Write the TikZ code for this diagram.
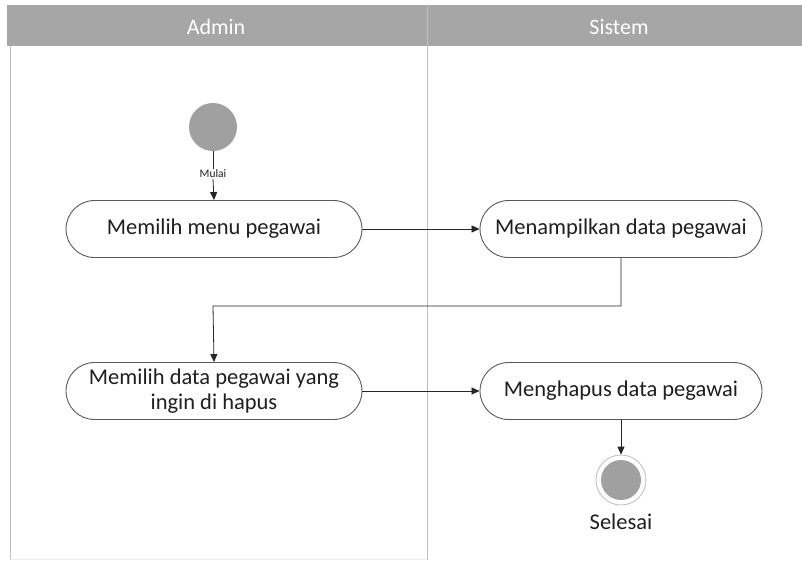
\documentclass[tikz,border=0pt]{standalone}
\usepackage{fontspec}
\setmainfont{Carlito}
\usetikzlibrary{arrows.meta}
\definecolor{hdr}{HTML}{A6A6A6}
\definecolor{lanel}{HTML}{BFBFBF}
\definecolor{boxl}{HTML}{595959}
\definecolor{txt}{HTML}{1F1F1F}
\definecolor{dot}{HTML}{A0A0A0}
\tikzset{
  act/.style={draw=boxl, line width=0.9pt, rounded corners=28.5pt, minimum width=296pt, minimum height=57pt, align=center, font=\fontsize{22.5}{25}\selectfont, text=txt, fill=white},
  flow/.style={draw=black!85, line width=0.8pt, -{Triangle[length=8pt,width=7pt]}},
  lane/.style={draw=lanel, line width=1pt},
}
\begin{document}
\begin{tikzpicture}[x=1pt,y=-1pt]
\useasboundingbox (0,0) rectangle (802,560);
% lanes
\fill[hdr] (7,5) rectangle (802,46);
\draw[lane] (10,46) -- (10,559);
\draw[lane] (427,5) -- (427,560);
\draw[draw=black!8] (10,559) -- (427,559);
\node[text=white, font=\fontsize{22}{24}\selectfont] (hA) at (216,27) {Admin};
\node[text=white, font=\fontsize{22}{24}\selectfont] (hS) at (619,27) {Sistem};
% nodes
\node[circle, fill=dot, minimum size=48pt, inner sep=0pt] (start) at (213,127) {};
\node[font=\fontsize{11.5}{13}\selectfont, text=txt, fill=white, inner sep=0.5pt] (mulai) at (213,174) {Mulai};
\node[act] (a1) at (214,229) {Memilih menu pegawai};
\node[act, minimum width=282pt] (s1) at (621,229) {Menampilkan data pegawai};
\node[act] (a2) at (214,391) {Memilih data pegawai yang\\ingin di hapus};
\node[act, minimum width=282pt] (s2) at (621,391) {Menghapus data pegawai};
\node[circle, draw=dot!70, line width=0.8pt, minimum size=50pt, inner sep=0pt] (end) at (621,480) {};
\node[circle, fill=dot, minimum size=40pt, inner sep=0pt] at (end.center) {};
\node[font=\fontsize{22.5}{25}\selectfont, text=txt] (selesai) at (621,522) {Selesai};
% connectors
\draw[draw=black!85, line width=0.8pt] (start.south) -- (mulai.north);
\draw[flow] (mulai.south) -- (a1.north);
\draw[flow] (a1.east) -- (s1.west);
\draw[flow] (s1.south) -- (621,306) -- (213,306) -- (a2.north);
\draw[flow] (a2.east) -- (s2.west);
\draw[flow] (s2.south) -- (end.north);
\end{tikzpicture}
\end{document}
